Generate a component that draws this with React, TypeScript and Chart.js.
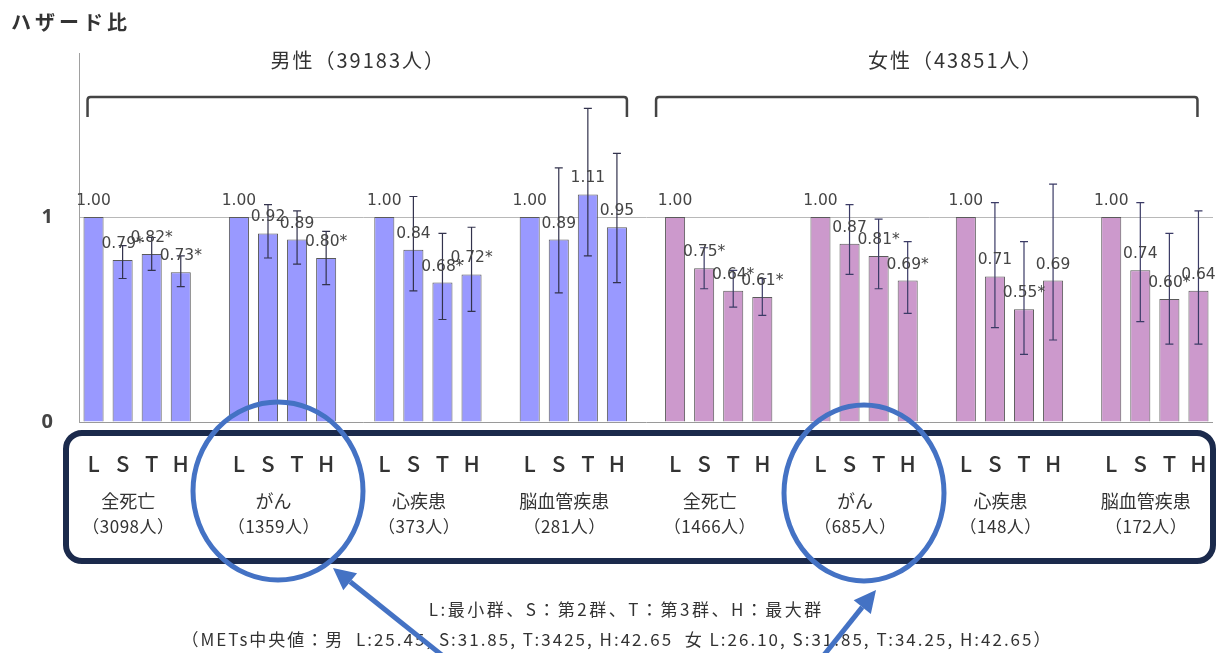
import React, { useEffect, useRef } from 'react';
import { Chart, registerables } from 'chart.js';

Chart.register(...registerables);

// ---- data ----
const causes = ['全死亡', 'がん', '心疾患', '脳血管疾患'];
const levels = ['L', 'S', 'T', 'H'];
const maleTitle = '男性（39183人）';
const femaleTitle = '女性（43851人）';
const maleCounts = ['（3098人）', '（1359人）', '（373人）', '（281人）'];
const femaleCounts = ['（1466人）', '（685人）', '（148人）', '（172人）'];

const maleHR = [1.0, 0.79, 0.82, 0.73, 1.0, 0.92, 0.89, 0.8, 1.0, 0.84, 0.68, 0.72, 1.0, 0.89, 1.11, 0.95];
const maleLow = [null, 0.7, 0.74, 0.66, null, 0.8, 0.77, 0.67, null, 0.64, 0.5, 0.54, null, 0.63, 0.81, 0.68];
const maleHigh = [null, 0.86, 0.9, 0.81, null, 1.06, 1.03, 0.93, null, 1.1, 0.92, 0.95, null, 1.24, 1.53, 1.31];
const maleSig = [false, true, true, true, false, false, false, true, false, false, true, true, false, false, false, false];

const femaleHR = [1.0, 0.75, 0.64, 0.61, 1.0, 0.87, 0.81, 0.69, 1.0, 0.71, 0.55, 0.69, 1.0, 0.74, 0.6, 0.64];
const femaleLow = [null, 0.65, 0.56, 0.52, null, 0.72, 0.65, 0.53, null, 0.46, 0.33, 0.4, null, 0.49, 0.38, 0.38];
const femaleHigh = [null, 0.85, 0.74, 0.7, null, 1.06, 0.99, 0.88, null, 1.07, 0.88, 1.16, null, 1.07, 0.92, 1.03];
const femaleSig = [false, true, true, true, false, false, true, true, false, false, true, false, false, false, true, false];

const yTicks = [0, 1];
const noteLine1 = 'L:最小群、S：第2群、T：第3群、H：最大群';
const noteLine2 = '（METs中央値：男  L:25.45, S:31.85, T:3425, H:42.65  女 L:26.10, S:31.85, T:34.25, H:42.65）';
const yTitle = 'ハザード比';

// ---- build slots (4 bars per group + gap) ----
type Slot = { label: string; v: number | null; lo: number | null; hi: number | null; sig: boolean; female: boolean; group: number };
const slots: Slot[] = [];
const groupsAll = [
  { hr: maleHR, lo: maleLow, hi: maleHigh, sig: maleSig, female: false },
  { hr: femaleHR, lo: femaleLow, hi: femaleHigh, sig: femaleSig, female: true },
];
groupsAll.forEach((s, si) => {
  for (let g = 0; g < causes.length; g++) {
    for (let k = 0; k < levels.length; k++) {
      const i = g * 4 + k;
      slots.push({ label: levels[k], v: s.hr[i], lo: s.lo[i], hi: s.hi[i], sig: s.sig[i], female: s.female, group: si * 4 + g });
    }
    if (!(si === 1 && g === causes.length - 1)) {
      slots.push({ label: '', v: null, lo: null, hi: null, sig: false, female: false, group: -1 });
    }
  }
});

const CJK = '"Noto Sans CJK JP", "Noto Sans", sans-serif';

const spaced = (ctx: any, text: string, x: number, y: number, sp: number) => {
  ctx.letterSpacing = `${sp}px`;
  ctx.fillText(text, x + sp / 2, y);
  ctx.letterSpacing = '0px';
};

const overlay = {
  id: 'overlay',
  beforeDraw(chart: any) {
    const ctx = chart.ctx;
    ctx.save();
    ctx.fillStyle = '#ffffff';
    ctx.fillRect(0, 0, chart.width, chart.height);
    ctx.restore();
  },
  afterDatasetsDraw(chart: any) {
    const ctx = chart.ctx;
    const meta = chart.getDatasetMeta(0);
    const y = chart.scales.y;
    ctx.save();
    // error bars
    slots.forEach((s, i) => {
      if (s.lo == null || s.hi == null) return;
      const x = meta.data[i].x;
      const y1 = y.getPixelForValue(s.lo);
      const y2 = y.getPixelForValue(s.hi);
      ctx.strokeStyle = s.female ? '#3b3b66' : '#33334d';
      ctx.lineWidth = 1.2;
      ctx.beginPath();
      ctx.moveTo(x, y1);
      ctx.lineTo(x, y2);
      ctx.moveTo(x - 4, y1);
      ctx.lineTo(x + 4, y1);
      ctx.moveTo(x - 4, y2);
      ctx.lineTo(x + 4, y2);
      ctx.stroke();
    });
    // value labels
    ctx.font = '15.5px "DejaVu Sans", sans-serif';
    ctx.fillStyle = '#454545';
    ctx.textAlign = 'center';
    ctx.textBaseline = 'alphabetic';
    slots.forEach((s, i) => {
      if (s.v == null) return;
      const x = meta.data[i].x;
      const top = y.getPixelForValue(s.v);
      ctx.fillText(s.v.toFixed(2) + (s.sig ? '*' : ''), x, top - 12);
    });
    ctx.restore();
  },
  afterDraw(chart: any) {
    const ctx = chart.ctx;
    const meta = chart.getDatasetMeta(0);
    const px = (i: number) => meta.data[i].x;
    ctx.save();

    // y title
    ctx.font = `bold 20px ${CJK}`;
    ctx.fillStyle = '#333';
    ctx.textAlign = 'left';
    ctx.textBaseline = 'middle';
    ctx.letterSpacing = '4px';
    ctx.fillText(yTitle, 11, 22);
    ctx.letterSpacing = '0px';

    // brackets + titles
    const drawBracket = (x1: number, x2: number) => {
      ctx.strokeStyle = '#444';
      ctx.lineWidth = 2.5;
      ctx.beginPath();
      ctx.moveTo(x1, 117);
      ctx.lineTo(x1, 100);
      ctx.quadraticCurveTo(x1, 97, x1 + 3, 97);
      ctx.lineTo(x2 - 3, 97);
      ctx.quadraticCurveTo(x2, 97, x2, 100);
      ctx.lineTo(x2, 117);
      ctx.stroke();
    };
    const mL = px(0) - 6, mR = px(18) + 10;
    const fL = px(20) - 19, fR = px(38) - 1;
    drawBracket(mL, mR);
    drawBracket(fL, fR);
    ctx.font = `20px ${CJK}`;
    ctx.fillStyle = '#333';
    ctx.textAlign = 'center';
    spaced(ctx, maleTitle, (mL + mR) / 2, 60, 2);
    spaced(ctx, femaleTitle, (fL + fR) / 2 + 28, 60, 2);

    // category labels
    const groupIdx: number[][] = [];
    slots.forEach((s, i) => {
      if (s.group < 0) return;
      (groupIdx[s.group] = groupIdx[s.group] || []).push(i);
    });
    ctx.fillStyle = '#333';
    groupIdx.forEach((idx, g) => {
      ctx.font = `500 22px ${CJK}`;
      idx.forEach((i) => ctx.fillText(slots[i].label, px(i), 464));
      const cx = (px(idx[0]) + px(idx[3])) / 2 - 9;
      ctx.font = `18px ${CJK}`;
      ctx.fillText(causes[g % 4], cx, 501);
      ctx.font = `17px ${CJK}`;
      spaced(ctx, g < 4 ? maleCounts[g] : femaleCounts[g - 4], cx, 527, 0.5);
    });

    // rounded box
    ctx.strokeStyle = '#1b2a4c';
    ctx.lineWidth = 6;
    ctx.beginPath();
    (ctx as any).roundRect(66, 433, 1147, 128, 16);
    ctx.stroke();

    // circles
    ctx.strokeStyle = '#4472c4';
    ctx.lineWidth = 5;
    ctx.beginPath();
    ctx.ellipse(278, 491, 85, 89, 0, 0, Math.PI * 2);
    ctx.stroke();
    ctx.beginPath();
    ctx.ellipse(864, 493, 80, 88, 0, 0, Math.PI * 2);
    ctx.stroke();

    // notes
    ctx.fillStyle = '#333';
    ctx.font = `17px ${CJK}`;
    ctx.textAlign = 'center';
    spaced(ctx, noteLine1, 625, 610, 2.5);
    spaced(ctx, noteLine2, 616, 640, 2);

    // arrows
    const arrow = (x1: number, y1: number, x2: number, y2: number) => {
      const a = Math.atan2(y2 - y1, x2 - x1);
      const L = 22, W = 11;
      const bx = x2 - L * Math.cos(a), by = y2 - L * Math.sin(a);
      ctx.strokeStyle = '#4472c4';
      ctx.fillStyle = '#4472c4';
      ctx.lineWidth = 5;
      ctx.beginPath();
      ctx.moveTo(x1, y1);
      ctx.lineTo(bx, by);
      ctx.stroke();
      ctx.beginPath();
      ctx.moveTo(x2, y2);
      ctx.lineTo(bx + W * Math.sin(a), by - W * Math.cos(a));
      ctx.lineTo(bx - W * Math.sin(a), by + W * Math.cos(a));
      ctx.closePath();
      ctx.fill();
    };
    arrow(448, 660, 333, 568);
    arrow(820, 660, 876, 590);

    ctx.restore();
  },
};

export default function App() {
  const ref = useRef<HTMLCanvasElement | null>(null);
  useEffect(() => {
    document.body.style.margin = '0';
    const canvas = ref.current!;
    const chart = new Chart(canvas, {
      type: 'bar',
      data: {
        labels: slots.map((s) => s.label),
        datasets: [
          {
            data: slots.map((s) => s.v) as any,
            backgroundColor: slots.map((s) => (s.female ? '#cc99cc' : '#9999ff')),
            borderColor: '#5a5a5a',
            borderWidth: 1,
            barPercentage: 0.69,
            categoryPercentage: 1,
          },
        ],
      },
      options: {
        responsive: false,
        animation: false,
        devicePixelRatio: 1,
        layout: { padding: { left: 0, right: 4, top: 53, bottom: 231 } },
        plugins: { legend: { display: false }, tooltip: { enabled: false } },
        scales: {
          x: { display: false },
          y: {
            min: 0,
            max: 1.8,
            afterFit: (s: any) => {
              s.width = 79;
            },
            afterBuildTicks: (s: any) => {
              s.ticks = yTicks.map((v) => ({ value: v }));
            },
            ticks: {
              padding: 26,
              color: '#444',
              font: { size: 20, weight: 'bold', family: '"Noto Sans", sans-serif' },
            },
            grid: {
              drawTicks: false,
              color: (c: any) => (c.tick && c.tick.value === 0 ? '#9a9a9a' : '#b8b8b8'),
            },
            border: { display: true, color: '#a0a0a0' },
          },
        },
      },
      plugins: [overlay],
    });
    return () => chart.destroy();
  }, []);
  return <canvas ref={ref} width={1217} height={653} style={{ display: 'block', width: 1217, height: 653 }} />;
}
